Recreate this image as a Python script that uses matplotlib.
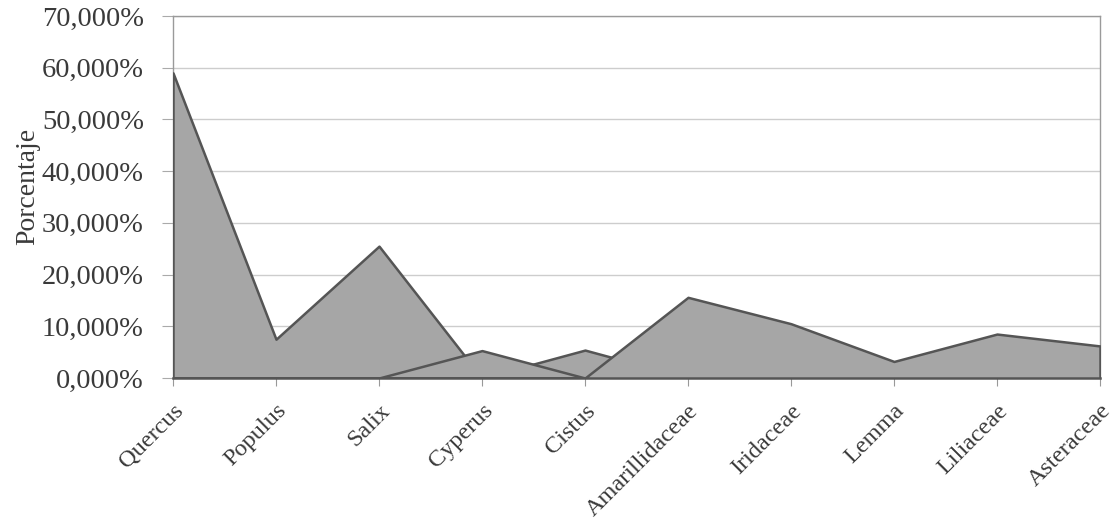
import matplotlib
matplotlib.use('Agg')
import matplotlib.pyplot as pyplot
from matplotlib.ticker import MultipleLocator, FuncFormatter
import numpy

taxa = ['Quercus', 'Populus', 'Salix', 'Cyperus', 'Cistus',
        'Amarillidaceae', 'Iridaceae', 'Lemma', 'Liliaceae', 'Asteraceae']

# percentages per group, one area each
arboreo = [59.0, 7.5, 25.5, 0.0, 5.4, 0.0, 0.0, 0.0, 0.0, 0.0]
juncal = [0.0, 0.0, 0.0, 5.3, 0.0, 0.0, 0.0, 0.0, 0.0, 0.0]
herbaceo = [0.0, 0.0, 0.0, 0.0, 0.0, 15.6, 10.5, 3.2, 8.5, 6.2]

pyplot.rcParams['font.family'] = ['Liberation Serif', 'DejaVu Serif']
txt = '#3a3a3a'

f = pyplot.figure(figsize=(11.13, 5.21), dpi=100)
ax = f.add_axes([173/1113, 1 - 378/521, (1100 - 173)/1113, (378 - 16)/521])

xs = numpy.arange(len(taxa))
for serie in (arboreo, juncal, herbaceo):
    ax.fill_between(xs, 0, serie, facecolor='#a6a6a6', edgecolor='#555555',
                    linewidth=1.8, zorder=3)

ax.set_xlim(0, len(taxa) - 1)
ax.set_ylim(0, 70)
ax.yaxis.set_major_locator(MultipleLocator(10))
ax.yaxis.set_major_formatter(FuncFormatter(lambda v, p: '%d,000%%' % v))
ax.grid(axis='y', color='#cdcdcd', linewidth=1.0, zorder=1)

ax.set_xticks(xs)
ax.set_xticklabels(taxa, rotation=45, ha='right', va='top',
                   rotation_mode='anchor', fontsize=17.5, color=txt)
ax.tick_params(axis='x', length=6, width=0.8, color='#999999', pad=10)
ax.tick_params(axis='y', length=8, width=0.8, color='#aaaaaa', pad=13,
               labelsize=20.5, labelcolor=txt)

for side in ('left', 'right', 'top', 'bottom'):
    ax.spines[side].set_color('#9a9a9a')
    ax.spines[side].set_linewidth(1.0)
ax.spines['bottom'].set_color('#555555')
ax.spines['bottom'].set_linewidth(1.8)

ax.set_ylabel('Porcentaje', fontsize=20, color=txt)
ax.yaxis.set_label_coords(-0.1435, 0.53)

f.savefig('out.png', dpi=100)
